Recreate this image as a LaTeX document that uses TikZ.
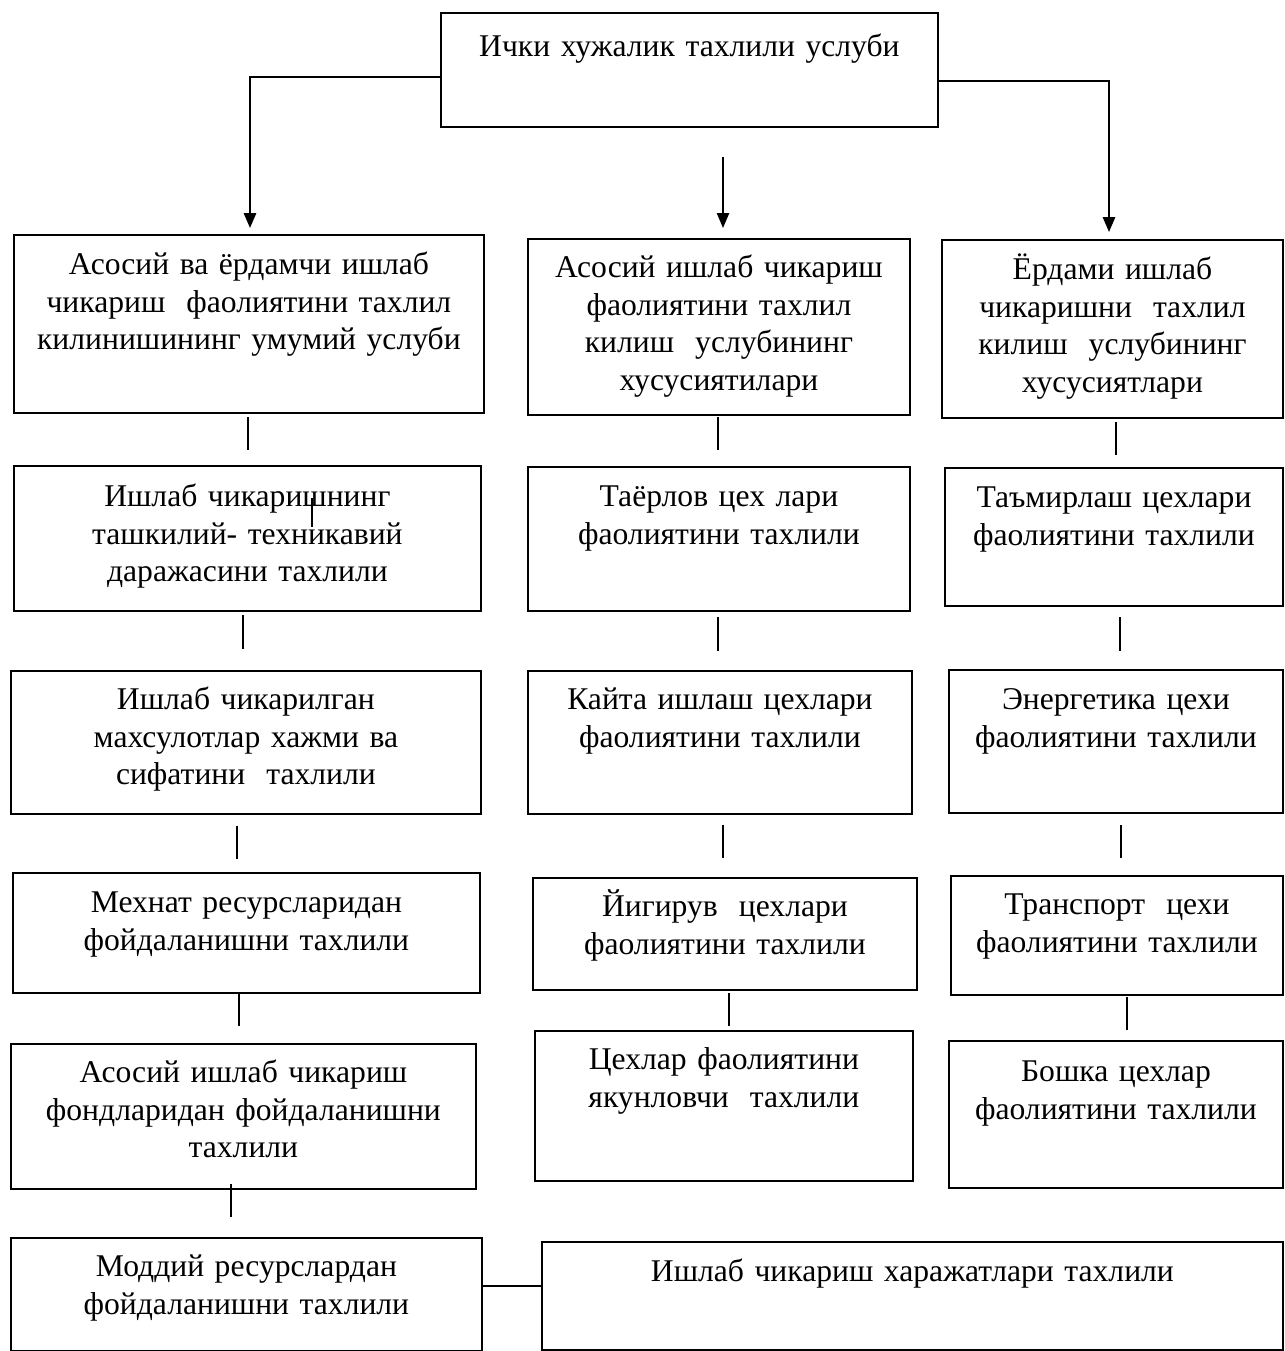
\documentclass[tikz,border=0pt]{standalone}
\usepackage{fontspec}
\setmainfont{Liberation Serif}
\usepackage{tikz}
\usetikzlibrary{arrows.meta, calc}

\begin{document}
\begin{tikzpicture}[
  x=0.02cm, y=-0.02cm,
  box/.style={draw, line width=1.1pt, inner sep=0pt, anchor=north west,
              align=center, font=\fontsize{18}{21.3}\selectfont},
  elbow/.style={line width=1.1pt, -{Triangle[length=8.5pt, width=7pt]}},
  arrow/.style={line width=0.75pt, -{Triangle[length=8.5pt, width=7pt]}},
  link/.style={line width=0.75pt}
]
  \useasboundingbox (0,0) rectangle (1284,1351);

  % Top box
  \node[box, text width=9.94cm, text height=0.88cm, text depth=1.40cm] (method) at (440,12)
    {Ички хужалик тахлили услуби};

  % Left column
  \node[box, text width=9.40cm, text height=0.80cm, text depth=2.76cm] (general) at (13,234)
    {Асосий ва ёрдамчи ишлаб\\чикариш\ \ фаолиятини тахлил\\килинишининг умумий услуби};
  \node[box, text width=9.34cm, text height=0.82cm, text depth=2.08cm] (orglevel) at (13,465)
    {Ишлаб чикаришнинг\\ташкилий- техникавий\\даражасини тахлили};
  \node[box, text width=9.40cm, text height=0.78cm, text depth=2.08cm] (output) at (10,670)
    {Ишлаб чикарилган\\махсулотлар хажми ва\\сифатини\ \ тахлили};
  \node[box, text width=9.34cm, text height=0.80cm, text depth=1.60cm] (labour) at (12,872)
    {Мехнат ресурсларидан\\фойдаланишни тахлили};
  \node[box, text width=9.30cm, text height=0.78cm, text depth=2.12cm] (fixedassets) at (10,1043)
    {Асосий ишлаб чикариш\\фондларидан фойдаланишни\\тахлили};
  \node[box, text width=9.42cm, text height=0.78cm, text depth=1.48cm] (material) at (10,1237)
    {Моддий ресурслардан\\фойдаланишни тахлили};

  % Middle column
  \node[box, text width=7.64cm, text height=0.78cm, text depth=2.74cm] (mainfeat) at (527,238)
    {Асосий ишлаб чикариш\\фаолиятини тахлил\\килиш\ \ услубининг\\хусусиятилари};
  \node[box, text width=7.64cm, text height=0.80cm, text depth=2.08cm] (prepshop) at (527,466)
    {Таёрлов цех лари\\фаолиятини тахлили};
  \node[box, text width=7.68cm, text height=0.78cm, text depth=2.08cm] (reworkshop) at (527,670)
    {Кайта ишлаш цехлари\\фаолиятини тахлили};
  \node[box, text width=7.68cm, text height=0.78cm, text depth=1.46cm] (spinshop) at (532,877)
    {Йигирув\ \ цехлари\\фаолиятини тахлили};
  \node[box, text width=7.56cm, text height=0.78cm, text depth=2.22cm] (finalshop) at (534,1030)
    {Цехлар фаолиятини\\якунловчи\ \ тахлили};

  % Right column
  \node[box, text width=6.82cm, text height=0.80cm, text depth=2.76cm] (auxfeat) at (941,239)
    {Ёрдами ишлаб\\чикаришни\ \ тахлил\\килиш\ \ услубининг\\хусусиятлари};
  \node[box, text width=6.76cm, text height=0.80cm, text depth=1.96cm] (repairshop) at (944,467)
    {Таъмирлаш цехлари\\фаолиятини тахлили};
  \node[box, text width=6.68cm, text height=0.80cm, text depth=2.06cm] (energyshop) at (948,669)
    {Энергетика цехи\\фаолиятини тахлили};
  \node[box, text width=6.64cm, text height=0.78cm, text depth=1.60cm] (transportshop) at (950,875)
    {Транспорт\ \ цехи\\фаолиятини тахлили};
  \node[box, text width=6.68cm, text height=0.82cm, text depth=2.12cm] (othershops) at (948,1040)
    {Бошка цехлар\\фаолиятини тахлили};

  % Bottom right box
  \node[box, text width=14.82cm, text height=0.80cm, text depth=1.36cm] (costs) at (541,1241)
    {Ишлаб чикариш харажатлари тахлили};

  % Arrows from the top box
  \coordinate (tipL) at (250,228);
  \coordinate (tipR) at (1109,232);
  \coordinate (startM) at (723,157);
  \coordinate (tipM) at (723,228);
  \draw[elbow] ($(method.west)+(0,7)$) -| (tipL);
  \draw[elbow] ($(method.east)+(0,11)$) -| (tipR);
  \draw[arrow] (startM) -- (tipM);

  % Short links, left column
  \coordinate (l1a) at (248,417);  \coordinate (l1b) at (248,450);
  \coordinate (l2a) at (243,615);  \coordinate (l2b) at (243,649);
  \coordinate (l3a) at (237,826);  \coordinate (l3b) at (237,859);
  \coordinate (l4a) at (239,993);  \coordinate (l4b) at (239,1026);
  \coordinate (l5a) at (231,1184); \coordinate (l5b) at (231,1217);
  \coordinate (sa) at (312,498);   \coordinate (sb) at (312,527);
  \draw[link] (l1a) -- (l1b);
  \draw[link] (l2a) -- (l2b);
  \draw[link] (l3a) -- (l3b);
  \draw[link] (l4a) -- (l4b);
  \draw[link] (l5a) -- (l5b);
  \draw[link] (sa) -- (sb);

  % Short links, middle column
  \coordinate (m1a) at (718,417);  \coordinate (m1b) at (718,450);
  \coordinate (m2a) at (718,617);  \coordinate (m2b) at (718,651);
  \coordinate (m3a) at (723,825);  \coordinate (m3b) at (723,858);
  \coordinate (m4a) at (729,993);  \coordinate (m4b) at (729,1026);
  \draw[link] (m1a) -- (m1b);
  \draw[link] (m2a) -- (m2b);
  \draw[link] (m3a) -- (m3b);
  \draw[link] (m4a) -- (m4b);

  % Short links, right column
  \coordinate (r1a) at (1116,422); \coordinate (r1b) at (1116,455);
  \coordinate (r2a) at (1120,617); \coordinate (r2b) at (1120,651);
  \coordinate (r3a) at (1121,825); \coordinate (r3b) at (1121,858);
  \coordinate (r4a) at (1127,997); \coordinate (r4b) at (1127,1030);
  \draw[link] (r1a) -- (r1b);
  \draw[link] (r2a) -- (r2b);
  \draw[link] (r3a) -- (r3b);
  \draw[link] (r4a) -- (r4b);

  % Materials -- costs
  \draw[line width=1.1pt] ($(material.east)+(0,-8.5)$) -- ($(costs.west)+(0,-10)$);
\end{tikzpicture}
\end{document}
